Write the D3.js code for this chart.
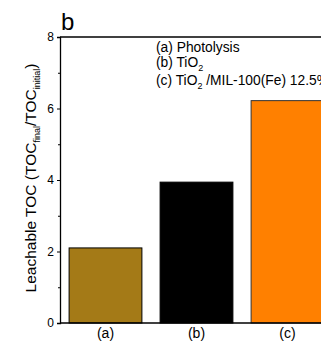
<!DOCTYPE html>
<html><head><meta charset="utf-8">
<script src="https://cdn.jsdelivr.net/npm/d3@7"></script>
<style>body{margin:0;background:#fff}svg{display:block}text{font-family:"Liberation Sans",Arial,sans-serif}</style>
</head><body>
<script>
const categories = ["(a)", "(b)", "(c)"];
const values = [2.10, 3.94, 6.22];
const colors = ["#a47a17", "#000000", "#ff8000"];
const yTicks = [0, 2, 4, 6, 8];
const yMinorTicks = [1, 3, 5, 7];
const legendLines = [
  ["(a) Photolysis"],
  ["(b) TiO", "2", ""],
  ["(c) TiO", "2", " /MIL-100(Fe) 12.5%"]
];

(function () {
const W = 321, H = 341;
const svg = d3.select("body").append("svg").attr("width", W).attr("height", H);
const pL = 60, pR = 333, pT = 37, pB = 323;

const x = d3.scaleBand().domain(categories).range([pL, pR]).paddingInner(0.2).paddingOuter(0.1);
const y = d3.scaleLinear().domain([0, 8]).range([pB, pT]);

// bars
svg.selectAll("rect.bar").data(values).enter().append("rect")
  .attr("class", "bar")
  .attr("x", (d, i) => x(categories[i]))
  .attr("width", x.bandwidth())
  .attr("y", d => y(d))
  .attr("height", d => y(0) - y(d))
  .attr("fill", (d, i) => colors[i])
  .attr("stroke", (d, i) => i === 2 ? "#333" : "#000")
  .attr("stroke-width", 1);

// frame
svg.append("line").attr("x1", pL).attr("x2", pR).attr("y1", pT).attr("y2", pT).attr("stroke", "#000").attr("stroke-width", 1.3);
svg.append("line").attr("x1", pL).attr("x2", pR).attr("y1", pB).attr("y2", pB).attr("stroke", "#000").attr("stroke-width", 1.3);

// y axis
const yAxis = d3.axisLeft(y).tickValues(yTicks).tickSize(3).tickPadding(3).tickFormat(d3.format("d"));
const ga = svg.append("g").attr("transform", `translate(${pL},0)`).call(yAxis);
ga.select(".domain").attr("stroke-width", 1.3);
ga.selectAll(".tick line").attr("stroke-width", 1);
ga.selectAll("text").attr("font-size", 12).attr("fill", "#000").attr("font-family", "Liberation Sans, Arial, sans-serif");
const gm = svg.append("g").attr("transform", `translate(${pL},0)`)
  .call(d3.axisLeft(y).tickValues(yMinorTicks).tickSize(2).tickFormat(""));
gm.select(".domain").remove();

// x labels
svg.selectAll("text.xl").data(categories).enter().append("text")
  .attr("class", "xl")
  .attr("x", d => x(d) + x.bandwidth() / 2)
  .attr("y", 338)
  .attr("text-anchor", "middle")
  .attr("font-size", 14)
  .text(d => d);

// panel letter
svg.append("text").attr("x", 61).attr("y", 30).attr("font-size", 24).text("b");

// y label
const yl = svg.append("text")
  .attr("transform", `translate(36,178) rotate(-90)`)
  .attr("text-anchor", "middle")
  .attr("font-size", 15.5);
yl.append("tspan").text("Leachable TOC (TOC");
yl.append("tspan").attr("font-size", 9).attr("dy", 4).text("final");
yl.append("tspan").attr("dy", -4).text("/TOC");
yl.append("tspan").attr("font-size", 9).attr("dy", 4).text("initial");
yl.append("tspan").attr("dy", -4).text(")");

// legend
const ly = [51.5, 67, 85];
legendLines.forEach((parts, i) => {
  const t = svg.append("text").attr("x", 156).attr("y", ly[i]).attr("font-size", 13.8).attr("xml:space", "preserve").style("white-space", "pre");
  t.append("tspan").text(parts[0]);
  if (parts.length > 1) {
    t.append("tspan").attr("font-size", 9).attr("dy", 4).text(parts[1]);
    if (parts[2]) t.append("tspan").attr("dy", -4).text(parts[2]);
  }
});
})();
</script>
</body></html>
